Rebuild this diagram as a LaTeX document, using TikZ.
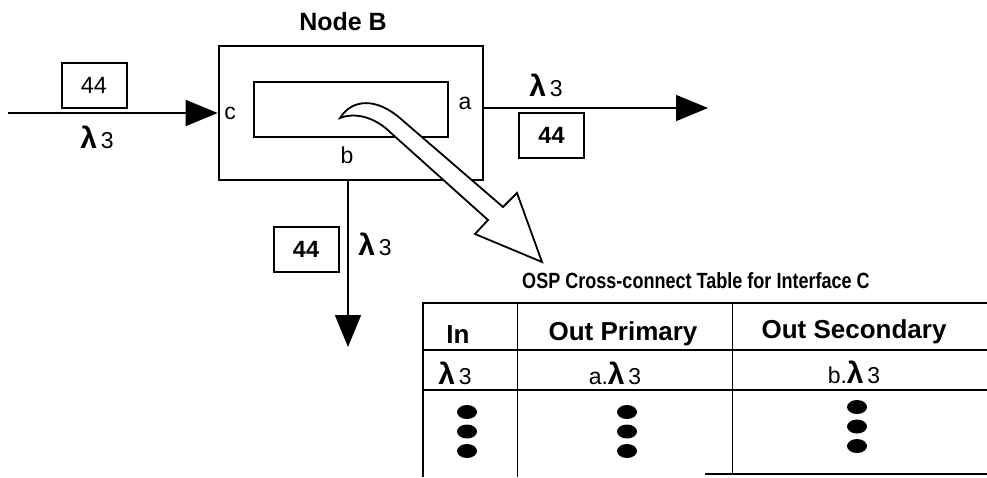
\documentclass[tikz,border=0pt]{standalone}
\usepackage{fontspec}
\setmainfont{Liberation Sans}
\usetikzlibrary{arrows.meta}
\newcommand{\lamthree}{{\fontsize{30}{30}\selectfont\bfseries λ}\,3}
\tikzset{
  numbox/.style={draw, rectangle, line width=2pt, minimum width=65pt, minimum height=45pt, inner sep=0pt, font=\fontsize{23.5}{23.5}\selectfont},
  lbl/.style={inner sep=0pt, font=\fontsize{23}{23}\selectfont},
  hdr/.style={inner sep=0pt, font=\bfseries\fontsize{26}{26}\selectfont},
  flow/.style={line width=1.6pt, -{Triangle[length=32pt,width=26pt]}}
}
\begin{document}
\begin{tikzpicture}[x=1pt, y=-1pt]
\useasboundingbox (0,0) rectangle (987,477);
% node B and its cross-connect
\node[draw, rectangle, line width=2.6pt, minimum width=264pt, minimum height=134pt] (nodeB) at (351,113) {};
\node[draw, rectangle, line width=2pt, minimum width=194pt, minimum height=55pt] (xc) at (351,109.5) {};
\node[inner sep=0pt, font=\bfseries\fontsize{25}{25}\selectfont] (title) at (343,22) {Node B};
\node[lbl] (pc) at (230,113) {c};
\node[lbl] (pa) at (465,103) {a};
\node[lbl] (pb) at (347,155) {b};
% ports
\coordinate (src) at (8,113);
\coordinate (outA) at (708,108);
\coordinate (outB) at (348,347);
\draw[flow] (src) -- (nodeB.west);
\draw[flow] ([yshift=5pt]nodeB.east) -- (outA);
\draw[flow] (nodeB.south -| outB) -- (outB);
\node[numbox] (boxc) at (94,85) {44};
\node[lbl] (lamc) at (97,137) {\lamthree};
\node[numbox, font=\bfseries\fontsize{23.5}{23.5}\selectfont] (boxa) at (551.5,135) {44};
\node[lbl] (lama) at (546,85) {\lamthree};
\node[numbox, font=\bfseries\fontsize{23.5}{23.5}\selectfont] (boxb) at (306,249.5) {44};
\node[lbl] (lamb) at (375,244) {\lamthree};
% hollow pointer to the table
\draw[line width=1.8pt, fill=white, line join=miter]
  (340,118) .. controls (352,99) and (376,97) .. (401,119) -- (503,207) -- (517,193)
  -- (542,262) -- (475,234) -- (488,220) -- (391,133)
  .. controls (375,117) and (355,112) .. (340,118) -- cycle;
% table
\node[inner sep=0pt, font=\bfseries\fontsize{22}{22}\selectfont, xscale=0.82] (ttl) at (696,281) {OSP Cross-connect Table for Interface C};
\draw[line width=2.8pt] (423,477) -- (423,303) -- (987,303);
\draw[line width=2.2pt] (423,350) -- (987,350);
\draw[line width=1.5pt] (423,390) -- (987,390);
\draw[line width=1pt] (517,303) -- (517,477);
\draw[line width=1pt] (732,303) -- (732,474);
\draw[line width=2.2pt] (705,474) -- (987,474);
\node[hdr] (hIn) at (458,335) {In};
\node[hdr] (hPri) at (623,334) {Out Primary};
\node[hdr] (hSec) at (854,332) {Out Secondary};
\node[lbl] (rIn) at (455,373) {\lamthree};
\node[lbl] (rPri) at (615,373) {a.\lamthree};
\node[lbl] (rSec) at (854,372) {b.\lamthree};
\foreach \x/\y in {467/412, 627/412, 857/407}
  \foreach \k in {0,1,2}
    \fill (\x,\y+19.5*\k) ellipse [x radius=10pt, y radius=7pt];
\end{tikzpicture}
\end{document}
